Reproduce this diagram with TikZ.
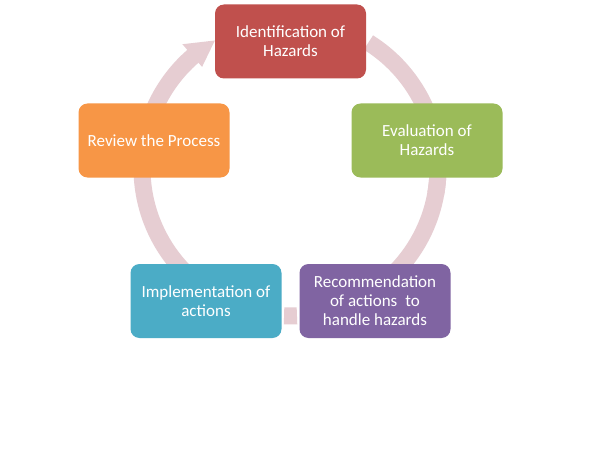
\documentclass[tikz,border=0pt]{standalone}
\usepackage{fontspec}
\setmainfont{Carlito}
\definecolor{ringc}{HTML}{E6CDD2}
\definecolor{cred}{HTML}{C0504D}
\definecolor{cgreen}{HTML}{9BBB59}
\definecolor{cpurple}{HTML}{8064A2}
\definecolor{cblue}{HTML}{4BACC6}
\definecolor{corange}{HTML}{F79646}
\begin{document}
\begin{tikzpicture}[x=1pt,y=-1pt,
  box/.style={rectangle, rounded corners=9pt, draw=none, minimum width=151pt,
    minimum height=74pt, text=white, align=center,
    font=\fontsize{17}{19}\selectfont, inner sep=2pt},
  ringarc/.style={draw=ringc, line width=17pt}]
\fill[white] (0,0) rectangle (614,460);
\useasboundingbox (0,0) rectangle (614,460);
\coordinate (c) at (290,168);
% ring segments
\draw[ringarc, shift={(c)}] (-58:148) arc[start angle=-58, end angle=10, radius=148];
\draw[ringarc, shift={(c)}] (-5:148) arc[start angle=-5, end angle=70, radius=148];
\draw[ringarc, shift={(c)}] (87.3:148) arc[start angle=87.3, end angle=92.3, radius=148];
\draw[ringarc, shift={(c)}] (110:148) arc[start angle=110, end angle=185, radius=148];
\draw[ringarc, shift={(c)}] (200:148) arc[start angle=200, end angle=229.5, radius=148];
\fill[ringc, shift={(c)}] (229:134) -- (229:164) -- (239.5:148) -- cycle;
% boxes
\node[box, fill=cred]    (ident)  at (290.5,41.5) {Identification of\\Hazards};
\node[box, fill=cgreen]  (eval)   at (427,140.5)  {Evaluation of\\Hazards};
\node[box, fill=cpurple] (recom)  at (375,301)    {Recommendation\\of actions\hspace{0.25em} to\\handle hazards};
\node[box, fill=cblue]   (impl)   at (206,301)    {Implementation of\\actions};
\node[box, fill=corange] (review) at (154,140.5)  {Review the Process};
\end{tikzpicture}
\end{document}
